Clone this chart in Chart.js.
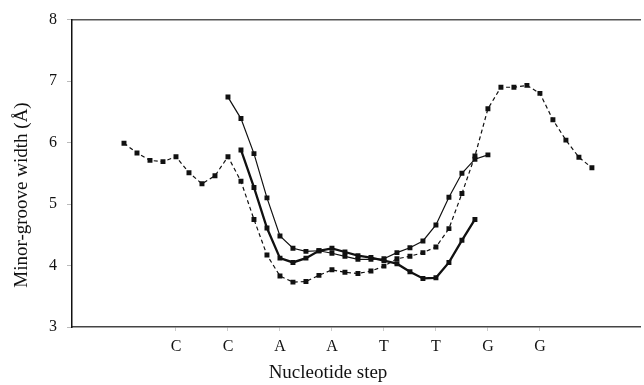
<!DOCTYPE html>
<html>
<head>
<meta charset="utf-8">
<script src="https://cdn.jsdelivr.net/npm/chart.js@4/dist/chart.umd.min.js"></script>
<style>
  html, body { margin: 0; padding: 0; background: #fff; }
  #wrap { width: 644px; height: 385px; }
</style>
</head>
<body>
<div id="wrap"><canvas id="groove"></canvas></div>
<script>
// ---- DATA ----
// x positions are nucleotide step indices; each series starts at its own step
const stepLetters = ['C', 'C', 'A', 'A', 'T', 'T', 'G', 'G'];
const letterSteps = [8, 12, 16, 20, 24, 28, 32, 36];
const yTicks = [3, 4, 5, 6, 7, 8];
const xTitle = 'Nucleotide step';
const yTitle = 'Minor-groove width (Å)';

const dashedStart = 4;
const dashedWidth = [5.99, 5.83, 5.71, 5.69, 5.77, 5.51, 5.33, 5.46, 5.77, 5.37,
  4.75, 4.17, 3.83, 3.73, 3.74, 3.84, 3.93, 3.89, 3.87, 3.91,
  3.99, 4.11, 4.15, 4.21, 4.30, 4.60, 5.17, 5.78, 6.55, 6.90,
  6.90, 6.93, 6.80, 6.37, 6.04, 5.76, 5.59];

const thinStart = 12;
const thinWidth = [6.74, 6.39, 5.82, 5.10, 4.48, 4.28, 4.23, 4.24, 4.20, 4.15,
  4.10, 4.10, 4.11, 4.21, 4.29, 4.40, 4.66, 5.11, 5.50, 5.73, 5.80];

const thickStart = 13;
const thickWidth = [5.88, 5.27, 4.61, 4.12, 4.05, 4.12, 4.24, 4.28, 4.22, 4.16,
  4.13, 4.08, 4.03, 3.90, 3.79, 3.80, 4.05, 4.41, 4.75];

const toPoints = (start, vals) => vals.map((v, i) => ({ x: start + i, y: v }));

const serif = "'Liberation Serif', 'DejaVu Serif', serif";
Chart.defaults.font.family = serif;
Chart.defaults.color = '#111';

// axis titles sit off-centre in the original, so place them by hand
const axisTitles = {
  id: 'axisTitles',
  afterDraw(chart) {
    const { ctx } = chart;
    ctx.save();
    ctx.fillStyle = '#111';
    ctx.font = `19px ${serif}`;
    ctx.textAlign = 'center';
    ctx.textBaseline = 'middle';
    ctx.fillText(xTitle, 328, 373);
    ctx.translate(22, 195);
    ctx.rotate(-Math.PI / 2);
    ctx.fillText(yTitle, 0, 0);
    ctx.restore();
  }
};

const base = {
  borderColor: '#111',
  backgroundColor: '#111',
  pointStyle: 'rect',
  pointRadius: 3.5,
  pointBorderWidth: 0,
  tension: 0
};

new Chart(document.getElementById('groove'), {
  type: 'line',
  data: {
    datasets: [
      { ...base, data: toPoints(dashedStart, dashedWidth), borderWidth: 1.2, borderDash: [4, 3] },
      { ...base, data: toPoints(thinStart, thinWidth), borderWidth: 1.2 },
      { ...base, data: toPoints(thickStart, thickWidth), borderWidth: 2.3 }
    ]
  },
  options: {
    responsive: true,
    maintainAspectRatio: false,
    animation: false,
    layout: { padding: { left: 0, right: 0, top: 18, bottom: 0 } },
    plugins: { legend: { display: false }, tooltip: { enabled: false } },
    scales: {
      x: {
        type: 'linear',
        min: 0,
        max: 43.7,
        afterBuildTicks: axis => { axis.ticks = letterSteps.map(v => ({ value: v })); },
        afterFit: s => { s.height = 58; },
        ticks: {
          autoSkip: false,
          maxRotation: 0,
          padding: 6,
          font: { size: 16 },
          color: '#111',
          callback: v => stepLetters[letterSteps.indexOf(v)] || ''
        },
        grid: { display: true, drawOnChartArea: false, tickLength: 4, color: '#ccc' },
        border: { display: true, color: '#444', width: 1.5 }
      },
      xTop: {
        type: 'linear',
        position: 'top',
        min: 0,
        max: 43.7,
        afterFit: s => { s.height = 0; },
        ticks: { display: false },
        grid: { display: false },
        border: { display: true, color: '#555', width: 1.5 }
      },
      y: {
        min: 3,
        max: 8,
        afterBuildTicks: axis => { axis.ticks = yTicks.map(v => ({ value: v })); },
        afterFit: s => { s.width = 72; },
        ticks: { padding: 10, font: { size: 16 }, color: '#111' },
        grid: { display: true, drawOnChartArea: false, tickLength: 5, color: '#bbb' },
        border: { display: true, color: '#111', width: 1.5 }
      }
    }
  },
  plugins: [axisTitles]
});
</script>
</body>
</html>
